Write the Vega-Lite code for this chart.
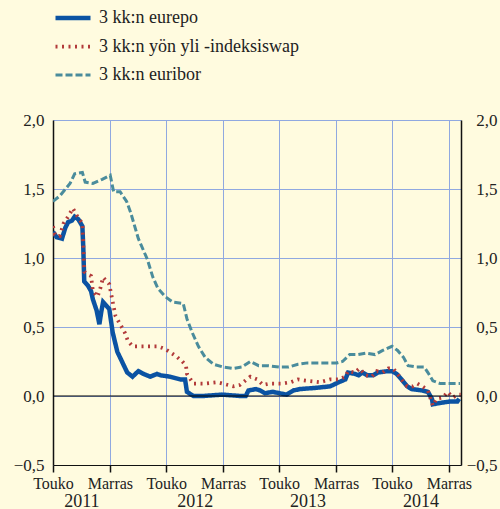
{
  "$schema": "https://vega.github.io/schema/vega-lite/v6.json",
  "width": 408,
  "height": 345,
  "autosize": {"type": "none"},
  "padding": {"left": 53, "top": 120, "right": 39, "bottom": 44},
  "background": "#fffbdf",
  "config": {
    "view": {"stroke": null},
    "font": "'Liberation Serif', 'Times New Roman', serif",
    "axis": {"labelFont": "'Liberation Serif', 'Times New Roman', serif", "labelColor": "#222", "titleColor": "#222"},
    "legend": {"labelFont": "'Liberation Serif', 'Times New Roman', serif"}
  },
  "datasets": {
    "rates": [
      {"s": "3 kk:n euribor", "d": "2011-05-01", "v": 1.41},
      {"s": "3 kk:n euribor", "d": "2011-05-23", "v": 1.45},
      {"s": "3 kk:n euribor", "d": "2011-06-25", "v": 1.54},
      {"s": "3 kk:n euribor", "d": "2011-07-10", "v": 1.61},
      {"s": "3 kk:n euribor", "d": "2011-08-04", "v": 1.62},
      {"s": "3 kk:n euribor", "d": "2011-08-13", "v": 1.55},
      {"s": "3 kk:n euribor", "d": "2011-09-07", "v": 1.54},
      {"s": "3 kk:n euribor", "d": "2011-10-07", "v": 1.57},
      {"s": "3 kk:n euribor", "d": "2011-11-02", "v": 1.60},
      {"s": "3 kk:n euribor", "d": "2011-11-13", "v": 1.48},
      {"s": "3 kk:n euribor", "d": "2011-12-04", "v": 1.48},
      {"s": "3 kk:n euribor", "d": "2011-12-25", "v": 1.41},
      {"s": "3 kk:n euribor", "d": "2012-01-07", "v": 1.33},
      {"s": "3 kk:n euribor", "d": "2012-02-01", "v": 1.14},
      {"s": "3 kk:n euribor", "d": "2012-03-01", "v": 0.99},
      {"s": "3 kk:n euribor", "d": "2012-03-19", "v": 0.86},
      {"s": "3 kk:n euribor", "d": "2012-04-04", "v": 0.78},
      {"s": "3 kk:n euribor", "d": "2012-04-28", "v": 0.72},
      {"s": "3 kk:n euribor", "d": "2012-05-22", "v": 0.68},
      {"s": "3 kk:n euribor", "d": "2012-06-25", "v": 0.67},
      {"s": "3 kk:n euribor", "d": "2012-07-07", "v": 0.56},
      {"s": "3 kk:n euribor", "d": "2012-07-24", "v": 0.46},
      {"s": "3 kk:n euribor", "d": "2012-08-13", "v": 0.36},
      {"s": "3 kk:n euribor", "d": "2012-09-04", "v": 0.28},
      {"s": "3 kk:n euribor", "d": "2012-10-01", "v": 0.23},
      {"s": "3 kk:n euribor", "d": "2012-11-01", "v": 0.21},
      {"s": "3 kk:n euribor", "d": "2012-12-04", "v": 0.20},
      {"s": "3 kk:n euribor", "d": "2013-01-01", "v": 0.21},
      {"s": "3 kk:n euribor", "d": "2013-01-28", "v": 0.25},
      {"s": "3 kk:n euribor", "d": "2013-02-24", "v": 0.22},
      {"s": "3 kk:n euribor", "d": "2013-03-22", "v": 0.22},
      {"s": "3 kk:n euribor", "d": "2013-05-04", "v": 0.21},
      {"s": "3 kk:n euribor", "d": "2013-06-01", "v": 0.21},
      {"s": "3 kk:n euribor", "d": "2013-07-01", "v": 0.23},
      {"s": "3 kk:n euribor", "d": "2013-08-01", "v": 0.24},
      {"s": "3 kk:n euribor", "d": "2013-09-10", "v": 0.24},
      {"s": "3 kk:n euribor", "d": "2013-11-04", "v": 0.24},
      {"s": "3 kk:n euribor", "d": "2013-11-22", "v": 0.25},
      {"s": "3 kk:n euribor", "d": "2013-12-15", "v": 0.30},
      {"s": "3 kk:n euribor", "d": "2014-01-10", "v": 0.30},
      {"s": "3 kk:n euribor", "d": "2014-02-06", "v": 0.31},
      {"s": "3 kk:n euribor", "d": "2014-03-07", "v": 0.30},
      {"s": "3 kk:n euribor", "d": "2014-04-01", "v": 0.33},
      {"s": "3 kk:n euribor", "d": "2014-05-01", "v": 0.36},
      {"s": "3 kk:n euribor", "d": "2014-05-19", "v": 0.33},
      {"s": "3 kk:n euribor", "d": "2014-06-07", "v": 0.28},
      {"s": "3 kk:n euribor", "d": "2014-06-22", "v": 0.22},
      {"s": "3 kk:n euribor", "d": "2014-07-19", "v": 0.21},
      {"s": "3 kk:n euribor", "d": "2014-08-13", "v": 0.21},
      {"s": "3 kk:n euribor", "d": "2014-08-25", "v": 0.17},
      {"s": "3 kk:n euribor", "d": "2014-09-10", "v": 0.11},
      {"s": "3 kk:n euribor", "d": "2014-10-04", "v": 0.09},
      {"s": "3 kk:n euribor", "d": "2014-11-04", "v": 0.09},
      {"s": "3 kk:n euribor", "d": "2014-12-07", "v": 0.09},

      {"s": "3 kk:n eurepo", "d": "2011-05-01", "v": 1.19},
      {"s": "3 kk:n eurepo", "d": "2011-05-13", "v": 1.15},
      {"s": "3 kk:n eurepo", "d": "2011-05-30", "v": 1.14},
      {"s": "3 kk:n eurepo", "d": "2011-06-10", "v": 1.22},
      {"s": "3 kk:n eurepo", "d": "2011-06-19", "v": 1.26},
      {"s": "3 kk:n eurepo", "d": "2011-07-01", "v": 1.27},
      {"s": "3 kk:n eurepo", "d": "2011-07-10", "v": 1.30},
      {"s": "3 kk:n eurepo", "d": "2011-07-22", "v": 1.28},
      {"s": "3 kk:n eurepo", "d": "2011-08-04", "v": 1.23},
      {"s": "3 kk:n eurepo", "d": "2011-08-07", "v": 1.07},
      {"s": "3 kk:n eurepo", "d": "2011-08-10", "v": 0.83},
      {"s": "3 kk:n eurepo", "d": "2011-08-22", "v": 0.80},
      {"s": "3 kk:n eurepo", "d": "2011-09-01", "v": 0.76},
      {"s": "3 kk:n eurepo", "d": "2011-09-07", "v": 0.70},
      {"s": "3 kk:n eurepo", "d": "2011-09-19", "v": 0.62},
      {"s": "3 kk:n eurepo", "d": "2011-09-28", "v": 0.52},
      {"s": "3 kk:n eurepo", "d": "2011-10-04", "v": 0.61},
      {"s": "3 kk:n eurepo", "d": "2011-10-10", "v": 0.68},
      {"s": "3 kk:n eurepo", "d": "2011-10-22", "v": 0.65},
      {"s": "3 kk:n eurepo", "d": "2011-10-30", "v": 0.63},
      {"s": "3 kk:n eurepo", "d": "2011-11-10", "v": 0.46},
      {"s": "3 kk:n eurepo", "d": "2011-11-25", "v": 0.32},
      {"s": "3 kk:n eurepo", "d": "2011-12-10", "v": 0.25},
      {"s": "3 kk:n eurepo", "d": "2011-12-27", "v": 0.17},
      {"s": "3 kk:n eurepo", "d": "2012-01-13", "v": 0.14},
      {"s": "3 kk:n eurepo", "d": "2012-02-01", "v": 0.18},
      {"s": "3 kk:n eurepo", "d": "2012-02-18", "v": 0.16},
      {"s": "3 kk:n eurepo", "d": "2012-03-10", "v": 0.14},
      {"s": "3 kk:n eurepo", "d": "2012-04-01", "v": 0.16},
      {"s": "3 kk:n eurepo", "d": "2012-04-13", "v": 0.15},
      {"s": "3 kk:n eurepo", "d": "2012-05-13", "v": 0.14},
      {"s": "3 kk:n eurepo", "d": "2012-06-16", "v": 0.12},
      {"s": "3 kk:n eurepo", "d": "2012-07-01", "v": 0.12},
      {"s": "3 kk:n eurepo", "d": "2012-07-07", "v": 0.03},
      {"s": "3 kk:n eurepo", "d": "2012-07-28", "v": 0.00},
      {"s": "3 kk:n eurepo", "d": "2012-08-28", "v": 0.00},
      {"s": "3 kk:n eurepo", "d": "2012-10-28", "v": 0.01},
      {"s": "3 kk:n eurepo", "d": "2012-12-28", "v": 0.00},
      {"s": "3 kk:n eurepo", "d": "2013-01-13", "v": 0.00},
      {"s": "3 kk:n eurepo", "d": "2013-01-22", "v": 0.04},
      {"s": "3 kk:n eurepo", "d": "2013-02-15", "v": 0.05},
      {"s": "3 kk:n eurepo", "d": "2013-03-01", "v": 0.04},
      {"s": "3 kk:n eurepo", "d": "2013-03-16", "v": 0.02},
      {"s": "3 kk:n eurepo", "d": "2013-04-10", "v": 0.03},
      {"s": "3 kk:n eurepo", "d": "2013-05-25", "v": 0.01},
      {"s": "3 kk:n eurepo", "d": "2013-06-16", "v": 0.04},
      {"s": "3 kk:n eurepo", "d": "2013-07-07", "v": 0.05},
      {"s": "3 kk:n eurepo", "d": "2013-09-01", "v": 0.06},
      {"s": "3 kk:n eurepo", "d": "2013-10-13", "v": 0.07},
      {"s": "3 kk:n eurepo", "d": "2013-11-10", "v": 0.10},
      {"s": "3 kk:n eurepo", "d": "2013-12-01", "v": 0.12},
      {"s": "3 kk:n eurepo", "d": "2013-12-10", "v": 0.17},
      {"s": "3 kk:n eurepo", "d": "2014-01-01", "v": 0.16},
      {"s": "3 kk:n eurepo", "d": "2014-01-13", "v": 0.15},
      {"s": "3 kk:n eurepo", "d": "2014-01-25", "v": 0.17},
      {"s": "3 kk:n eurepo", "d": "2014-02-10", "v": 0.15},
      {"s": "3 kk:n eurepo", "d": "2014-03-01", "v": 0.15},
      {"s": "3 kk:n eurepo", "d": "2014-03-16", "v": 0.17},
      {"s": "3 kk:n eurepo", "d": "2014-04-16", "v": 0.18},
      {"s": "3 kk:n eurepo", "d": "2014-05-01", "v": 0.18},
      {"s": "3 kk:n eurepo", "d": "2014-05-16", "v": 0.16},
      {"s": "3 kk:n eurepo", "d": "2014-06-01", "v": 0.12},
      {"s": "3 kk:n eurepo", "d": "2014-06-19", "v": 0.07},
      {"s": "3 kk:n eurepo", "d": "2014-07-04", "v": 0.05},
      {"s": "3 kk:n eurepo", "d": "2014-08-07", "v": 0.04},
      {"s": "3 kk:n eurepo", "d": "2014-08-25", "v": 0.03},
      {"s": "3 kk:n eurepo", "d": "2014-09-07", "v": -0.02},
      {"s": "3 kk:n eurepo", "d": "2014-09-10", "v": -0.06},
      {"s": "3 kk:n eurepo", "d": "2014-10-04", "v": -0.05},
      {"s": "3 kk:n eurepo", "d": "2014-11-04", "v": -0.04},
      {"s": "3 kk:n eurepo", "d": "2014-11-28", "v": -0.04},
      {"s": "3 kk:n eurepo", "d": "2014-12-04", "v": -0.02},

      {"s": "3 kk:n yön yli -indeksiswap", "d": "2011-05-01", "v": 1.23},
      {"s": "3 kk:n yön yli -indeksiswap", "d": "2011-05-07", "v": 1.17},
      {"s": "3 kk:n yön yli -indeksiswap", "d": "2011-05-23", "v": 1.16},
      {"s": "3 kk:n yön yli -indeksiswap", "d": "2011-06-04", "v": 1.25},
      {"s": "3 kk:n yön yli -indeksiswap", "d": "2011-06-19", "v": 1.30},
      {"s": "3 kk:n yön yli -indeksiswap", "d": "2011-07-04", "v": 1.36},
      {"s": "3 kk:n yön yli -indeksiswap", "d": "2011-07-19", "v": 1.30},
      {"s": "3 kk:n yön yli -indeksiswap", "d": "2011-08-04", "v": 1.25},
      {"s": "3 kk:n yön yli -indeksiswap", "d": "2011-08-07", "v": 1.09},
      {"s": "3 kk:n yön yli -indeksiswap", "d": "2011-08-10", "v": 0.90},
      {"s": "3 kk:n yön yli -indeksiswap", "d": "2011-08-22", "v": 0.88},
      {"s": "3 kk:n yön yli -indeksiswap", "d": "2011-09-01", "v": 0.87},
      {"s": "3 kk:n yön yli -indeksiswap", "d": "2011-09-07", "v": 0.76},
      {"s": "3 kk:n yön yli -indeksiswap", "d": "2011-09-22", "v": 0.72},
      {"s": "3 kk:n yön yli -indeksiswap", "d": "2011-10-01", "v": 0.78},
      {"s": "3 kk:n yön yli -indeksiswap", "d": "2011-10-10", "v": 0.86},
      {"s": "3 kk:n yön yli -indeksiswap", "d": "2011-10-22", "v": 0.83},
      {"s": "3 kk:n yön yli -indeksiswap", "d": "2011-10-30", "v": 0.81},
      {"s": "3 kk:n yön yli -indeksiswap", "d": "2011-11-05", "v": 0.74},
      {"s": "3 kk:n yön yli -indeksiswap", "d": "2011-11-19", "v": 0.58},
      {"s": "3 kk:n yön yli -indeksiswap", "d": "2011-11-29", "v": 0.54},
      {"s": "3 kk:n yön yli -indeksiswap", "d": "2011-12-19", "v": 0.46},
      {"s": "3 kk:n yön yli -indeksiswap", "d": "2011-12-29", "v": 0.40},
      {"s": "3 kk:n yön yli -indeksiswap", "d": "2012-01-13", "v": 0.36},
      {"s": "3 kk:n yön yli -indeksiswap", "d": "2012-02-07", "v": 0.36},
      {"s": "3 kk:n yön yli -indeksiswap", "d": "2012-03-10", "v": 0.36},
      {"s": "3 kk:n yön yli -indeksiswap", "d": "2012-04-04", "v": 0.36},
      {"s": "3 kk:n yön yli -indeksiswap", "d": "2012-04-28", "v": 0.34},
      {"s": "3 kk:n yön yli -indeksiswap", "d": "2012-06-01", "v": 0.29},
      {"s": "3 kk:n yön yli -indeksiswap", "d": "2012-06-22", "v": 0.25},
      {"s": "3 kk:n yön yli -indeksiswap", "d": "2012-07-04", "v": 0.22},
      {"s": "3 kk:n yön yli -indeksiswap", "d": "2012-07-07", "v": 0.16},
      {"s": "3 kk:n yön yli -indeksiswap", "d": "2012-07-28", "v": 0.09},
      {"s": "3 kk:n yön yli -indeksiswap", "d": "2012-09-01", "v": 0.09},
      {"s": "3 kk:n yön yli -indeksiswap", "d": "2012-10-13", "v": 0.10},
      {"s": "3 kk:n yön yli -indeksiswap", "d": "2012-12-04", "v": 0.07},
      {"s": "3 kk:n yön yli -indeksiswap", "d": "2012-12-25", "v": 0.08},
      {"s": "3 kk:n yön yli -indeksiswap", "d": "2013-01-28", "v": 0.14},
      {"s": "3 kk:n yön yli -indeksiswap", "d": "2013-02-19", "v": 0.12},
      {"s": "3 kk:n yön yli -indeksiswap", "d": "2013-03-10", "v": 0.08},
      {"s": "3 kk:n yön yli -indeksiswap", "d": "2013-04-01", "v": 0.09},
      {"s": "3 kk:n yön yli -indeksiswap", "d": "2013-05-10", "v": 0.09},
      {"s": "3 kk:n yön yli -indeksiswap", "d": "2013-06-07", "v": 0.10},
      {"s": "3 kk:n yön yli -indeksiswap", "d": "2013-07-01", "v": 0.12},
      {"s": "3 kk:n yön yli -indeksiswap", "d": "2013-08-01", "v": 0.11},
      {"s": "3 kk:n yön yli -indeksiswap", "d": "2013-09-10", "v": 0.10},
      {"s": "3 kk:n yön yli -indeksiswap", "d": "2013-10-13", "v": 0.12},
      {"s": "3 kk:n yön yli -indeksiswap", "d": "2013-11-10", "v": 0.12},
      {"s": "3 kk:n yön yli -indeksiswap", "d": "2013-12-01", "v": 0.14},
      {"s": "3 kk:n yön yli -indeksiswap", "d": "2013-12-10", "v": 0.18},
      {"s": "3 kk:n yön yli -indeksiswap", "d": "2014-01-01", "v": 0.17},
      {"s": "3 kk:n yön yli -indeksiswap", "d": "2014-01-16", "v": 0.20},
      {"s": "3 kk:n yön yli -indeksiswap", "d": "2014-02-04", "v": 0.15},
      {"s": "3 kk:n yön yli -indeksiswap", "d": "2014-02-25", "v": 0.14},
      {"s": "3 kk:n yön yli -indeksiswap", "d": "2014-03-13", "v": 0.18},
      {"s": "3 kk:n yön yli -indeksiswap", "d": "2014-04-01", "v": 0.17},
      {"s": "3 kk:n yön yli -indeksiswap", "d": "2014-04-19", "v": 0.20},
      {"s": "3 kk:n yön yli -indeksiswap", "d": "2014-05-04", "v": 0.20},
      {"s": "3 kk:n yön yli -indeksiswap", "d": "2014-05-19", "v": 0.16},
      {"s": "3 kk:n yön yli -indeksiswap", "d": "2014-06-07", "v": 0.10},
      {"s": "3 kk:n yön yli -indeksiswap", "d": "2014-06-19", "v": 0.07},
      {"s": "3 kk:n yön yli -indeksiswap", "d": "2014-07-07", "v": 0.07},
      {"s": "3 kk:n yön yli -indeksiswap", "d": "2014-07-22", "v": 0.09},
      {"s": "3 kk:n yön yli -indeksiswap", "d": "2014-08-07", "v": 0.07},
      {"s": "3 kk:n yön yli -indeksiswap", "d": "2014-08-25", "v": 0.04},
      {"s": "3 kk:n yön yli -indeksiswap", "d": "2014-09-10", "v": -0.07},
      {"s": "3 kk:n yön yli -indeksiswap", "d": "2014-09-22", "v": -0.02},
      {"s": "3 kk:n yön yli -indeksiswap", "d": "2014-10-13", "v": -0.01},
      {"s": "3 kk:n yön yli -indeksiswap", "d": "2014-10-28", "v": 0.03},
      {"s": "3 kk:n yön yli -indeksiswap", "d": "2014-11-13", "v": -0.01},
      {"s": "3 kk:n yön yli -indeksiswap", "d": "2014-12-01", "v": 0.01},
      {"s": "3 kk:n yön yli -indeksiswap", "d": "2014-12-09", "v": 0.01}
    ],
    "span": [{"start": "2011-05-01", "end": "2014-12-10"}]
  },
  "layer": [
    {
      "data": {"name": "rates"},
      "mark": {"type": "line", "clip": true},
      "encoding": {
        "x": {
          "field": "d", "type": "temporal",
          "scale": {"domain": [{"year": 2011, "month": 5, "date": 1, "utc": true}, {"year": 2014, "month": 12, "date": 10, "utc": true}]},
          "axis": {
            "orient": "bottom", "title": null,
            "values": [
              {"year": 2011, "month": 5, "date": 1, "utc": true},
              {"year": 2011, "month": 11, "date": 1, "utc": true},
              {"year": 2012, "month": 5, "date": 1, "utc": true},
              {"year": 2012, "month": 11, "date": 1, "utc": true},
              {"year": 2013, "month": 5, "date": 1, "utc": true},
              {"year": 2013, "month": 11, "date": 1, "utc": true},
              {"year": 2014, "month": 5, "date": 1, "utc": true},
              {"year": 2014, "month": 11, "date": 1, "utc": true}
            ],
            "labelExpr": "utcmonth(datum.value) == 4 ? 'Touko' : 'Marras'",
            "labelFont": "'Liberation Serif', 'Times New Roman', serif",
            "labelFontSize": 16, "labelPadding": 3, "labelAlign": "center",
            "labelOverlap": false, "labelFlush": false,
            "domainColor": "#111", "domainWidth": 1.2,
            "tickColor": "#111", "tickSize": 7, "tickWidth": 1.5,
            "grid": true, "gridColor": "#90a8e0", "gridWidth": 1
          }
        },
        "y": {
          "field": "v", "type": "quantitative",
          "scale": {"domain": [-0.5, 2.0], "nice": false, "zero": false},
          "axis": {
            "orient": "left", "title": null,
            "values": [-0.5, 0, 0.5, 1, 1.5, 2],
            "labelExpr": "replace(format(datum.value, '.1f'), '.', ',')",
            "labelFont": "'Liberation Serif', 'Times New Roman', serif",
            "labelFontSize": 17, "labelPadding": 9,
            "ticks": false, "domainColor": "#111", "domainWidth": 1.5,
            "grid": true, "gridColor": "#90a8e0", "gridWidth": 1
          }
        },
        "color": {
          "field": "s", "type": "nominal",
          "scale": {
            "domain": ["3 kk:n eurepo", "3 kk:n yön yli -indeksiswap", "3 kk:n euribor"],
            "range": ["#0b53a3", "#b23a3a", "#4a8c9c"]
          },
          "legend": {
            "title": null, "orient": "none", "legendX": 0, "legendY": -122,
            "labelFont": "'Liberation Serif', 'Times New Roman', serif",
            "labelFontSize": 18, "labelColor": "#222", "labelOffset": 6, "labelLimit": 400,
            "symbolType": "stroke", "symbolSize": 1225, "rowPadding": -13.5,
            "padding": 0
          }
        },
        "strokeDash": {
          "field": "s", "type": "nominal",
          "scale": {
            "domain": ["3 kk:n eurepo", "3 kk:n yön yli -indeksiswap", "3 kk:n euribor"],
            "range": [[1, 0], [2, 4.5], [7, 3]]
          },
          "legend": null
        },
        "strokeWidth": {
          "field": "s", "type": "nominal",
          "scale": {
            "domain": ["3 kk:n eurepo", "3 kk:n yön yli -indeksiswap", "3 kk:n euribor"],
            "range": [4.5, 3, 4.5]
          },
          "legend": null
        }
      }
    },
    {
      "data": {"name": "span"},
      "mark": {"type": "rule", "color": "#000", "strokeWidth": 1.2},
      "encoding": {
        "x": {
          "field": "start", "type": "temporal",
          "axis": {
            "orient": "bottom", "title": null,
            "values": [
              {"year": 2011, "month": 8, "date": 1, "utc": true},
              {"year": 2012, "month": 8, "date": 1, "utc": true},
              {"year": 2013, "month": 8, "date": 1, "utc": true},
              {"year": 2014, "month": 8, "date": 1, "utc": true}
            ],
            "labelExpr": "utcFormat(datum.value, '%Y')",
            "labelFont": "'Liberation Serif', 'Times New Roman', serif",
            "labelFontSize": 18, "labelPadding": 27, "labelAlign": "center",
            "labelOverlap": false, "labelFlush": false,
            "ticks": false, "tickSize": 0, "domain": false, "grid": false
          }
        },
        "x2": {"field": "end"},
        "y": {
          "datum": 0, "type": "quantitative",
          "axis": {
            "orient": "right", "title": null,
            "values": [-0.5, 0, 0.5, 1, 1.5, 2],
            "labelExpr": "replace(format(datum.value, '.1f'), '.', ',')",
            "labelFont": "'Liberation Serif', 'Times New Roman', serif",
            "labelFontSize": 17, "labelPadding": 36, "labelAlign": "right",
            "ticks": false, "domainColor": "#111", "domainWidth": 1.5,
            "grid": false
          }
        }
      }
    }
  ],
  "resolve": {"axis": {"x": "independent", "y": "independent"}}
}
